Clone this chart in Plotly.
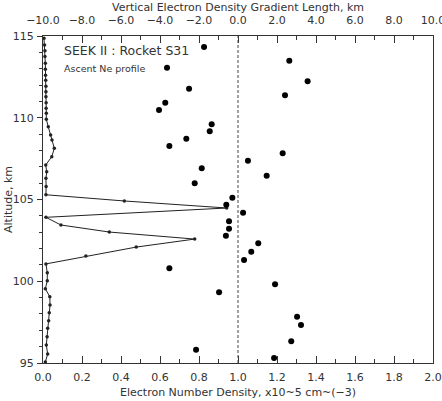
import plotly.graph_objects as go

# Ne profile (bottom axis, x10^5 cm^-3) vs altitude (km)
profile_alt = [114.86, 114.45, 114.10, 113.74, 113.33, 112.96, 112.60, 112.29, 111.93, 111.59,
               111.28, 110.92, 110.58, 110.27, 109.91, 109.45, 108.94, 108.64, 108.13, 107.62,
               107.11, 106.70, 106.30, 105.80, 105.29, 104.91, 104.48, 103.91, 103.44, 103.01,
               102.58, 102.09, 101.54, 101.06, 100.52, 100.03, 99.54, 99.05, 98.55, 98.08,
               97.59, 97.12, 96.61, 96.10, 95.55, 95.06]
profile_ne = [0.005, 0.008, 0.010, 0.010, 0.012, 0.012, 0.013, 0.014, 0.015, 0.015,
              0.015, 0.016, 0.016, 0.017, 0.017, 0.027, 0.039, 0.046, 0.058, 0.045,
              0.014, 0.019, 0.015, 0.016, 0.015, 0.417, 0.942, 0.015, 0.092, 0.340,
              0.778, 0.478, 0.220, 0.015, 0.022, 0.022, 0.012, 0.035, 0.036, 0.032,
              0.029, 0.024, 0.021, 0.017, 0.024, 0.012]

# Gradient length (top axis, km) vs altitude (km)
grad_alt = [114.33, 113.49, 113.06, 112.23, 111.78, 111.37, 110.92, 110.47, 109.60, 109.17,
            108.72, 108.27, 107.83, 107.37, 106.91, 106.46, 105.99, 105.11, 104.68, 104.19,
            103.67, 103.21, 102.79, 102.32, 101.81, 101.30, 100.79, 99.81, 99.32, 97.83,
            97.32, 96.33, 95.81, 95.31]
grad_len = [-1.74, 2.63, -3.64, 3.57, -2.51, 2.41, -3.73, -4.05, -1.35, -1.45,
            -2.65, -3.52, 2.29, 0.51, -1.86, 1.47, -2.22, -0.29, -0.60, 0.26,
            -0.46, -0.46, -0.62, 1.04, 0.68, 0.31, -3.52, 1.90, -0.97, 3.03,
            3.23, 2.73, -2.15, 1.85]

bottom_ticks = [0.0, 0.2, 0.4, 0.6, 0.8, 1.0, 1.2, 1.4, 1.6, 1.8, 2.0]
top_ticks = [-10, -8, -6, -4, -2, 0, 2, 4, 6, 8, 10]
alt_ticks = [95, 100, 105, 110, 115]

FONT = "DejaVu Sans"
TXT = "#333333"
fig = go.Figure()

fig.add_trace(go.Scatter(
    x=profile_ne, y=profile_alt, mode="lines+markers",
    line=dict(color="#222222", width=1),
    marker=dict(color="#222222", size=3.5, symbol="circle"),
    xaxis="x", yaxis="y", showlegend=False, cliponaxis=False))

fig.add_trace(go.Scatter(
    x=grad_len, y=grad_alt, mode="markers",
    marker=dict(color="black", size=6),
    xaxis="x2", yaxis="y", showlegend=False))

fig.add_shape(type="line", xref="x2", yref="paper", x0=0, x1=0, y0=0, y1=1,
              line=dict(color="#444444", width=1, dash="3px,2px"))

fig.add_annotation(text="SEEK II : Rocket S31", xref="paper", yref="paper",
                   x=0.048, y=0.955, xanchor="left", yanchor="middle", showarrow=False,
                   font=dict(family=FONT, size=12.5, color=TXT))
fig.add_annotation(text="Ascent Ne profile", xref="paper", yref="paper",
                   x=0.048, y=0.9, xanchor="left", yanchor="middle", showarrow=False,
                   font=dict(family=FONT, size=9.5, color=TXT))

# axis titles placed in pixel-equivalent paper coords
fig.add_annotation(text="Vertical Electron Density Gradient Length, km", xref="paper", yref="paper",
                   x=0.5, y=1.0 + (36 - 8) / 327, xanchor="center", yanchor="middle", showarrow=False,
                   font=dict(family=FONT, size=11, color=TXT))
fig.add_annotation(text="Electron Number Density, x10~5 cm~(−3)", xref="paper", yref="paper",
                   x=0.5, y=-(393 - 363) / 327, xanchor="center", yanchor="middle", showarrow=False,
                   font=dict(family=FONT, size=11, color=TXT))
fig.add_annotation(text="Altitude, km", xref="paper", yref="paper",
                   x=-(43 - 9) / 390, y=(363 - 200) / 327, xanchor="center", yanchor="middle",
                   showarrow=False, textangle=-90,
                   font=dict(family=FONT, size=11, color=TXT))

axis_font = dict(family=FONT, size=11, color=TXT)
fig.update_layout(
    width=442, height=401,
    margin=dict(l=43, r=9, t=36, b=38),
    paper_bgcolor="white", plot_bgcolor="white",
    font=axis_font,
    xaxis=dict(range=[0, 2], tickvals=bottom_ticks, tickformat=".1f", automargin=False,
               showgrid=False, zeroline=False, showline=True, linecolor=TXT, linewidth=1,
               ticks="inside", ticklen=7, tickcolor=TXT, ticklabelstandoff=4,
               ticklabeloverflow="allow",
               minor=dict(dtick=0.1, ticks="inside", ticklen=4, tickcolor=TXT),
               tickfont=axis_font),
    xaxis2=dict(range=[-10, 10], tickvals=top_ticks, tickformat=".1f", overlaying="x", side="top",
                anchor="y", automargin=False,
                showgrid=False, zeroline=False, showline=True, linecolor=TXT, linewidth=1,
                ticks="inside", ticklen=7, tickcolor=TXT, ticklabelstandoff=7,
                ticklabeloverflow="allow",
                minor=dict(dtick=1, ticks="inside", ticklen=4, tickcolor=TXT),
                tickfont=axis_font),
    yaxis=dict(range=[95, 115], tickvals=alt_ticks, automargin=False,
               showgrid=False, zeroline=False, showline=True, mirror=True,
               linecolor=TXT, linewidth=1,
               ticks="outside", ticklen=5, tickcolor=TXT, ticklabelstandoff=1,
               minor=dict(dtick=1, ticks="outside", ticklen=3, tickcolor=TXT),
               tickfont=axis_font),
)

fig.write_html("out.html")
